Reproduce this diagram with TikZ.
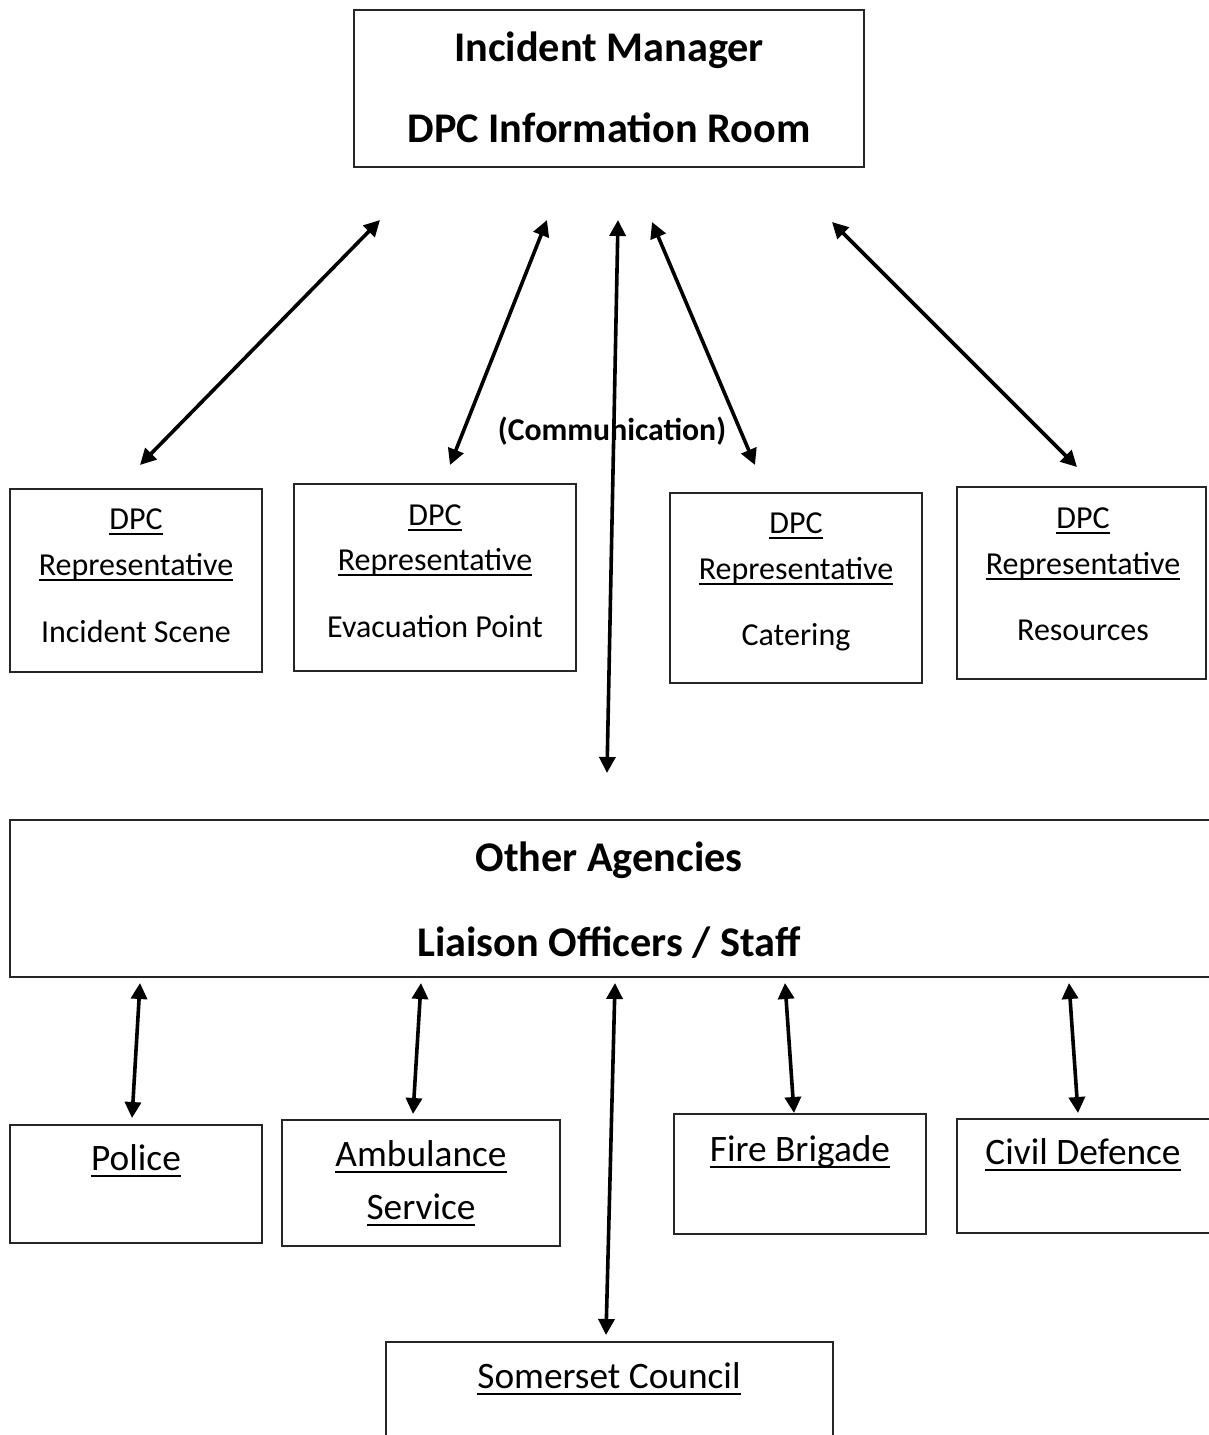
\documentclass[tikz,border=0pt]{standalone}
\usepackage{fontspec}
\setmainfont{Carlito}
\usetikzlibrary{arrows.meta,fit}
\newcommand\myul[1]{\setbox0=\hbox{#1}\rlap{\rule[-0.2em]{\wd0}{0.07em}}\box0}
\begin{document}
\begin{tikzpicture}[x=0.75pt,y=-0.75pt,
  box/.style={draw=black!85, line width=0.9pt, inner sep=0pt},
  conn/.style={line width=2.7pt, {Triangle[length=12pt,width=12pt]}-{Triangle[length=12pt,width=12pt]}},
  reg/.style={anchor=base, font=\fontsize{24}{28}\selectfont, inner sep=0pt},
  big/.style={anchor=base, font=\fontsize{31.7}{36}\selectfont\bfseries, inner sep=0pt},
  comm/.style={anchor=base, font=\fontsize{23.8}{28}\selectfont\bfseries, inner sep=0pt},
  agy/.style={anchor=base, font=\fontsize{28}{32}\selectfont, inner sep=0pt}]
\useasboundingbox (0,0) rectangle (1208,1435);

% top box
\node[box, fit={(354,10) (864,167)}] (top) {};
\node[big] (topA) at (609,61) {Incident Manager};
\node[big] (topB) at (609,142) {DPC Information Room};

% DPC representative boxes
\node[box, fit={(10,489) (262,672)}] (repA) {};
\node[reg] (repA1) at (136,529) {\myul{DPC}};
\node[reg] (repA2) at (136,575) {\myul{Representative}};
\node[reg] (repA3) at (136,642) {Incident Scene};

\node[box, fit={(294,484) (576,671)}] (repB) {};
\node[reg] (repB1) at (435,525) {\myul{DPC}};
\node[reg] (repB2) at (435,570) {\myul{Representative}};
\node[reg] (repB3) at (435,637) {Evacuation Point};

\node[box, fit={(670,493) (922,683)}] (repC) {};
\node[reg] (repC1) at (796,533) {\myul{DPC}};
\node[reg] (repC2) at (796,579) {\myul{Representative}};
\node[reg] (repC3) at (796,645) {Catering};

\node[box, fit={(957,487) (1206,679)}] (repD) {};
\node[reg] (repD1) at (1083,528) {\myul{DPC}};
\node[reg] (repD2) at (1083,574) {\myul{Representative}};
\node[reg] (repD3) at (1083,640) {Resources};

\node[comm] (comm) at (612,440) {(Communication)};

% other agencies
\node[box, fit={(10,820) (1260,977)}] (oth) {};
\node[big] (othA) at (609,871) {Other Agencies};
\node[big] (othB) at (609,956) {Liaison Officers / Staff};

% agency boxes
\node[box, fit={(10,1125) (262,1243)}] (pol) {};
\node[agy] (polT) at (136,1170) {\myul{Police}};
\node[box, fit={(282,1120) (560,1246)}] (amb) {};
\node[agy] (ambT1) at (421,1166) {\myul{Ambulance}};
\node[agy] (ambT2) at (421,1219) {\myul{Service}};
\node[box, fit={(674,1114) (926,1234)}] (fire) {};
\node[agy] (fireT) at (800,1161) {\myul{Fire Brigade}};
\node[box, fit={(957,1119) (1260,1233)}] (civ) {};
\node[agy] (civT) at (1083,1164) {\myul{Civil Defence}};
\node[box, fit={(386,1342) (833,1460)}] (som) {};
\node[agy] (somT) at (609,1388) {\myul{Somerset Council}};

% arrow end points
\coordinate (t1) at (380,220); \coordinate (r1) at (140,465);
\coordinate (t2) at (547,220); \coordinate (r2) at (450,465);
\coordinate (t3) at (618,220); \coordinate (o3) at (607,773);
\coordinate (t4) at (652,222); \coordinate (r4) at (755,465);
\coordinate (t5) at (832,222); \coordinate (r5) at (1077,467);

\coordinate (b1) at (140,983); \coordinate (p1) at (132,1118);
\coordinate (b2) at (421,983); \coordinate (p2) at (413,1114);
\coordinate (b3) at (615,983); \coordinate (p3) at (606,1335);
\coordinate (b4) at (785,983); \coordinate (p4) at (794,1113);
\coordinate (b5) at (1069,983); \coordinate (p5) at (1078,1113);

\draw[conn] (t1) -- (r1);
\draw[conn] (t2) -- (r2);
\draw[conn] (t3) -- (o3);
\draw[conn] (t4) -- (r4);
\draw[conn] (t5) -- (r5);
\draw[conn] (b1) -- (p1);
\draw[conn] (b2) -- (p2);
\draw[conn] (b3) -- (p3);
\draw[conn] (b4) -- (p4);
\draw[conn] (b5) -- (p5);
\end{tikzpicture}
\end{document}
